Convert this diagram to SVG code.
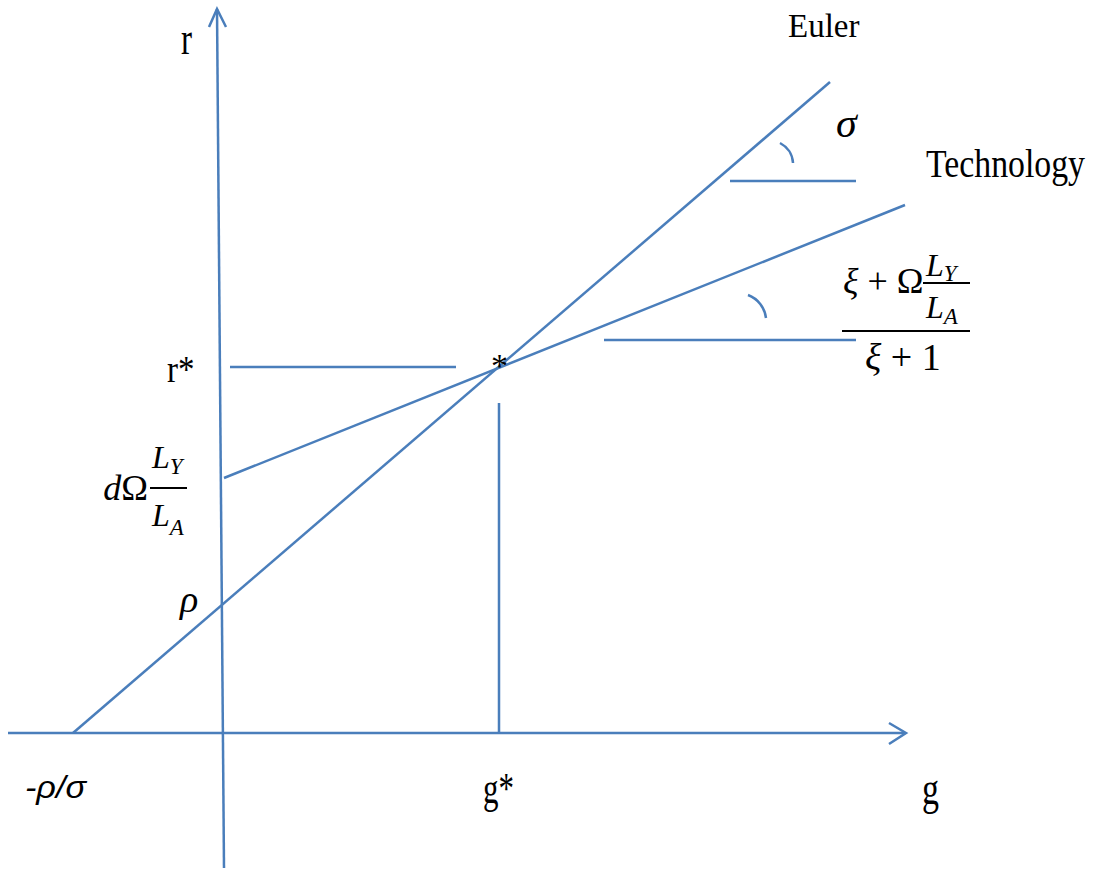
<svg xmlns="http://www.w3.org/2000/svg" width="1096" height="874" viewBox="0 0 1096 874">
<style>
.ln{stroke:#4A7EBB;stroke-width:2.5;fill:none;stroke-linecap:butt}
.t{font-family:"Liberation Serif","Times New Roman",serif;fill:#000}
.m{font-family:"Liberation Serif","Times New Roman",serif;fill:#000;font-style:italic}
.s{font-family:"Liberation Sans",Arial,sans-serif;fill:#000;font-style:italic}
</style>
<rect width="1096" height="874" fill="#fff"/>
<g id="connectors">
<g id="r-axis"><line class="ln" x1="224" y1="868" x2="217" y2="9"/><polyline class="ln" points="209,27 217,9 226,27"/></g>
<g id="g-axis"><line class="ln" x1="8" y1="733" x2="905" y2="733"/><polyline class="ln" points="889,723 906,733 889,744"/></g>
<line id="euler-line" class="ln" x1="73" y1="733" x2="830" y2="82"/>
<line id="technology-line" class="ln" x1="224" y1="478" x2="905" y2="205"/>
<line id="rstar-line" class="ln" x1="230" y1="367" x2="456" y2="367"/>
<line id="gstar-line" class="ln" x1="499" y1="403" x2="499" y2="733"/>
<line id="sigma-base" class="ln" x1="730" y1="181" x2="856" y2="181"/>
<path id="sigma-arc" class="ln" d="M780,143 A24,24 0 0 1 793,163"/>
<line id="tech-base" class="ln" x1="604" y1="340" x2="856" y2="340"/>
<path id="tech-arc" class="ln" d="M748,295 A28,28 0 0 1 766,318"/>
</g>
<g id="label-r"><text class="t" font-size="33" transform="translate(181,54) scale(1,1.4)">r</text></g>
<g id="label-euler"><text class="t" font-size="33" x="788" y="37">Euler</text></g>
<g id="label-technology"><text class="t" font-size="33" transform="translate(926,177) scale(1,1.22)" textLength="159" lengthAdjust="spacingAndGlyphs">Technology</text></g>
<g id="label-sigma"><text class="m" font-size="42" x="836" y="137">σ</text></g>
<g id="label-slope">
<text class="t" font-size="36" x="843" y="293"><tspan font-style="italic">ξ</tspan> + Ω</text>
<line x1="923" y1="283" x2="970" y2="283" stroke="#000" stroke-width="2"/>
<text class="m" font-size="32" x="926" y="276">L<tspan font-size="23" dy="5">Y</tspan></text>
<text class="m" font-size="32" x="926" y="318">L<tspan font-size="23" dy="6">A</tspan></text>
<line x1="842" y1="331" x2="970" y2="331" stroke="#000" stroke-width="2.2"/>
<text class="t" font-size="38" x="865" y="370"><tspan font-style="italic">ξ</tspan> + 1</text>
</g>
<g id="label-rstar"><text class="t" font-size="33" transform="translate(167,382) scale(1,1.15)">r*</text></g>
<g id="label-star"><text class="t" font-size="34" x="491" y="377">*</text></g>
<g id="label-intercept">
<text class="m" font-size="36" x="148" y="500" text-anchor="end">d<tspan font-style="normal">Ω</tspan></text>
<line x1="150" y1="488" x2="187" y2="488" stroke="#000" stroke-width="2"/>
<text class="m" font-size="32" x="152" y="468">L<tspan font-size="23" dy="6">Y</tspan></text>
<text class="m" font-size="32" x="152" y="526">L<tspan font-size="23" dy="9">A</tspan></text>
</g>
<g id="label-rho"><text class="m" font-size="38" x="180" y="612">ρ</text></g>
<g id="label-neg"><text class="s" font-size="32" x="25" y="798" textLength="61" lengthAdjust="spacingAndGlyphs">-ρ/σ</text></g>
<g id="label-gstar"><text class="t" font-size="31" transform="translate(483,803) scale(1,1.4)">g*</text></g>
<g id="label-g"><text class="t" font-size="34" transform="translate(922,804) scale(1,1.38)">g</text></g>
</svg>
